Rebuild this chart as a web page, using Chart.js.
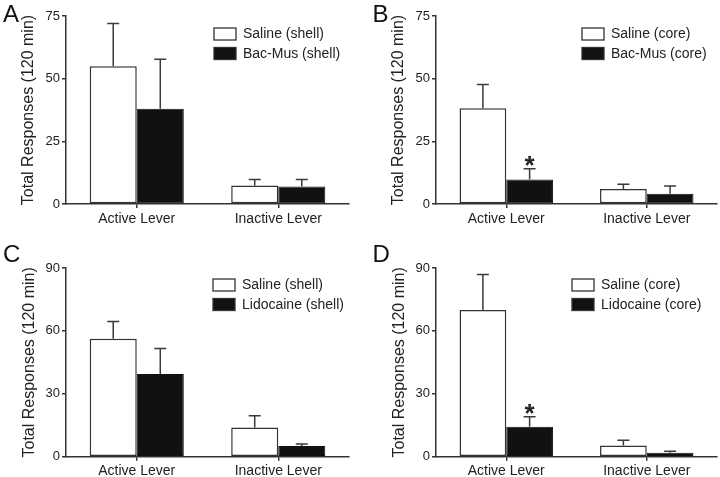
<!DOCTYPE html>
<html>
<head>
<meta charset="utf-8">
<script src="https://cdn.jsdelivr.net/npm/chart.js@4.4.1/dist/chart.umd.min.js"></script>
<style>
  html, body { margin: 0; padding: 0; background: #fff; overflow: hidden; }
  #wrap { position: relative; width: 720px; height: 477px; overflow: hidden; }
  canvas { position: absolute; }
</style>
</head>
<body>
<div id="wrap">
  <canvas id="panelA" width="360" height="240" style="left:0;top:0"></canvas>
  <canvas id="panelB" width="360" height="240" style="left:360px;top:0"></canvas>
  <canvas id="panelC" width="360" height="240" style="left:0;top:240px"></canvas>
  <canvas id="panelD" width="360" height="240" style="left:360px;top:240px"></canvas>
</div>
<script>
// Datos (media y error)
const categorias = ['Active Lever', 'Inactive Lever'];

// Panel A: shell, Bac-Mus
const salinaShellA = [55, 7.4];
const salinaShellAErr = [17, 2.4];
const bacMusShell = [38, 7.0];
const bacMusShellErr = [19.7, 2.8];

// Panel B: core, Bac-Mus
const salinaCoreB = [38.2, 6.0];
const salinaCoreBErr = [9.5, 1.9];
const bacMusCore = [9.8, 4.1];
const bacMusCoreErr = [4.3, 3.1];

// Panel C: shell, lidocaína
const salinaShellC = [56.3, 13.9];
const salinaShellCErr = [8.2, 5.6];
const lidoShell = [39.5, 5.1];
const lidoShellErr = [12.1, 1.0];

// Panel D: core, lidocaína
const salinaCoreD = [70.0, 5.4];
const salinaCoreDErr = [16.9, 2.4];
const lidoCore = [14.3, 1.9];
const lidoCoreErr = [4.7, 0.7];

const ejeY75 = [0, 25, 50, 75];
const ejeY90 = [0, 30, 60, 90];

const FUENTE = "'Liberation Sans', Arial, sans-serif";
const TINTA = '#222';
const LINEA = '#333';

Chart.defaults.font.family = FUENTE;
Chart.defaults.color = TINTA;

// Barras de error, asterisco, leyenda y letra del panel
const extrasPlugin = {
  id: 'extras',
  afterDatasetsDraw(chart, args, opts) {
    const ctx = chart.ctx;
    const yScale = chart.scales.y;
    ctx.save();
    // barras de error
    chart.data.datasets.forEach((ds, di) => {
      const meta = chart.getDatasetMeta(di);
      meta.data.forEach((bar, i) => {
        const tope = yScale.getPixelForValue(ds.data[i] + ds.errores[i]);
        ctx.strokeStyle = '#3a3a3a';
        ctx.lineWidth = 1.5;
        ctx.beginPath();
        ctx.moveTo(bar.x, bar.y);
        ctx.lineTo(bar.x, tope);
        ctx.moveTo(bar.x - 6, tope);
        ctx.lineTo(bar.x + 6, tope);
        ctx.stroke();
        if (opts.asterisco && opts.asterisco[0] === di && opts.asterisco[1] === i) {
          ctx.fillStyle = TINTA;
          ctx.font = 'bold 26px ' + FUENTE;
          ctx.textAlign = 'center';
          ctx.textBaseline = 'alphabetic';
          const m = ctx.measureText('*');
          ctx.fillText('*', bar.x, tope - 3 - m.actualBoundingBoxDescent);
        }
      });
    });

    // leyenda
    const area = chart.chartArea;
    const lx = area.left + opts.leyendaX;
    let ly = area.top + opts.leyendaY;
    chart.data.datasets.forEach(ds => {
      ctx.fillStyle = ds.backgroundColor;
      ctx.fillRect(lx, ly, 22, 12);
      ctx.strokeStyle = LINEA;
      ctx.lineWidth = 1.3;
      ctx.strokeRect(lx, ly, 22, 12);
      ctx.fillStyle = TINTA;
      ctx.font = '14px ' + FUENTE;
      ctx.textAlign = 'left';
      ctx.textBaseline = 'middle';
      ctx.fillText(ds.label, lx + 29, ly + 6.5);
      ly += 19.5;
    });

    // letra del panel
    ctx.fillStyle = '#111';
    ctx.font = '24px ' + FUENTE;
    ctx.textAlign = 'left';
    ctx.textBaseline = 'alphabetic';
    ctx.fillText(opts.letra, opts.letraX, 22);
    ctx.restore();
  }
};

function crearPanel(id, cfg) {
  const ctx = document.getElementById(id).getContext('2d');
  return new Chart(ctx, {
    type: 'bar',
    data: {
      labels: categorias,
      datasets: [
        {
          label: cfg.nombres[0],
          data: cfg.salina,
          errores: cfg.salinaErr,
          backgroundColor: '#ffffff',
          borderColor: LINEA,
          borderWidth: 1.5,
          borderSkipped: false
        },
        {
          label: cfg.nombres[1],
          data: cfg.droga,
          errores: cfg.drogaErr,
          backgroundColor: '#111111',
          borderColor: '#111111',
          borderWidth: 1,
          borderSkipped: false
        }
      ]
    },
    options: {
      responsive: false,
      animation: false,
      barPercentage: 1,
      categoryPercentage: 0.665,
      layout: {
        padding: { left: 0, top: cfg.arriba, right: cfg.derecha, bottom: 0 }
      },
      plugins: {
        legend: { display: false },
        tooltip: { enabled: false },
        extras: {
          leyendaX: cfg.leyendaX,
          leyendaY: cfg.leyendaY,
          letra: cfg.letra,
          letraX: cfg.letraX,
          asterisco: cfg.asterisco
        }
      },
      scales: {
        x: {
          grid: { display: true, drawOnChartArea: false, offset: false, tickLength: 4, color: LINEA, lineWidth: 1.5 },
          border: { display: true, color: LINEA, width: 1.5 },
          ticks: { font: { size: 14 }, color: TINTA, padding: 2.5 },
          afterFit: s => { s.height = cfg.altoX; }
        },
        y: {
          min: 0,
          max: cfg.ticksY[cfg.ticksY.length - 1],
          afterBuildTicks: s => { s.ticks = cfg.ticksY.map(v => ({ value: v })); },
          grid: { display: true, drawOnChartArea: false, tickLength: 4, color: LINEA, lineWidth: 1.5 },
          border: { display: true, color: LINEA, width: 1.5 },
          ticks: { font: { size: 13 }, color: TINTA, padding: 2 },
          title: {
            display: true,
            text: 'Total Responses (120 min)',
            font: { size: 16 },
            color: TINTA,
            padding: { top: cfg.tituloPad, bottom: 0 }
          },
          afterFit: s => { s.width = cfg.anchoY; }
        }
      }
    },
    plugins: [extrasPlugin]
  });
}

crearPanel('panelA', {
  nombres: ['Saline (shell)', 'Bac-Mus (shell)'],
  salina: salinaShellA, salinaErr: salinaShellAErr,
  droga: bacMusShell, drogaErr: bacMusShellErr,
  ticksY: ejeY75,
  arriba: 16, derecha: 11, altoX: 36, anchoY: 66, tituloPad: 19,
  leyendaX: 148, leyendaY: 12, letra: 'A', letraX: 3
});

crearPanel('panelB', {
  nombres: ['Saline (core)', 'Bac-Mus (core)'],
  salina: salinaCoreB, salinaErr: salinaCoreBErr,
  droga: bacMusCore, drogaErr: bacMusCoreErr,
  ticksY: ejeY75,
  arriba: 16, derecha: 3, altoX: 36, anchoY: 76, tituloPad: 29,
  leyendaX: 146, leyendaY: 12, letra: 'B', letraX: 12.5,
  asterisco: [1, 0]
});

crearPanel('panelC', {
  nombres: ['Saline (shell)', 'Lidocaine (shell)'],
  salina: salinaShellC, salinaErr: salinaShellCErr,
  droga: lidoShell, drogaErr: lidoShellErr,
  ticksY: ejeY90,
  arriba: 28, derecha: 11, altoX: 23.3, anchoY: 66, tituloPad: 20,
  leyendaX: 147, leyendaY: 11, letra: 'C', letraX: 3
});

crearPanel('panelD', {
  nombres: ['Saline (core)', 'Lidocaine (core)'],
  salina: salinaCoreD, salinaErr: salinaCoreDErr,
  droga: lidoCore, drogaErr: lidoCoreErr,
  ticksY: ejeY90,
  arriba: 28, derecha: 3, altoX: 23.3, anchoY: 76, tituloPad: 30,
  leyendaX: 136, leyendaY: 11, letra: 'D', letraX: 12.5,
  asterisco: [1, 0]
});
</script>
</body>
</html>
